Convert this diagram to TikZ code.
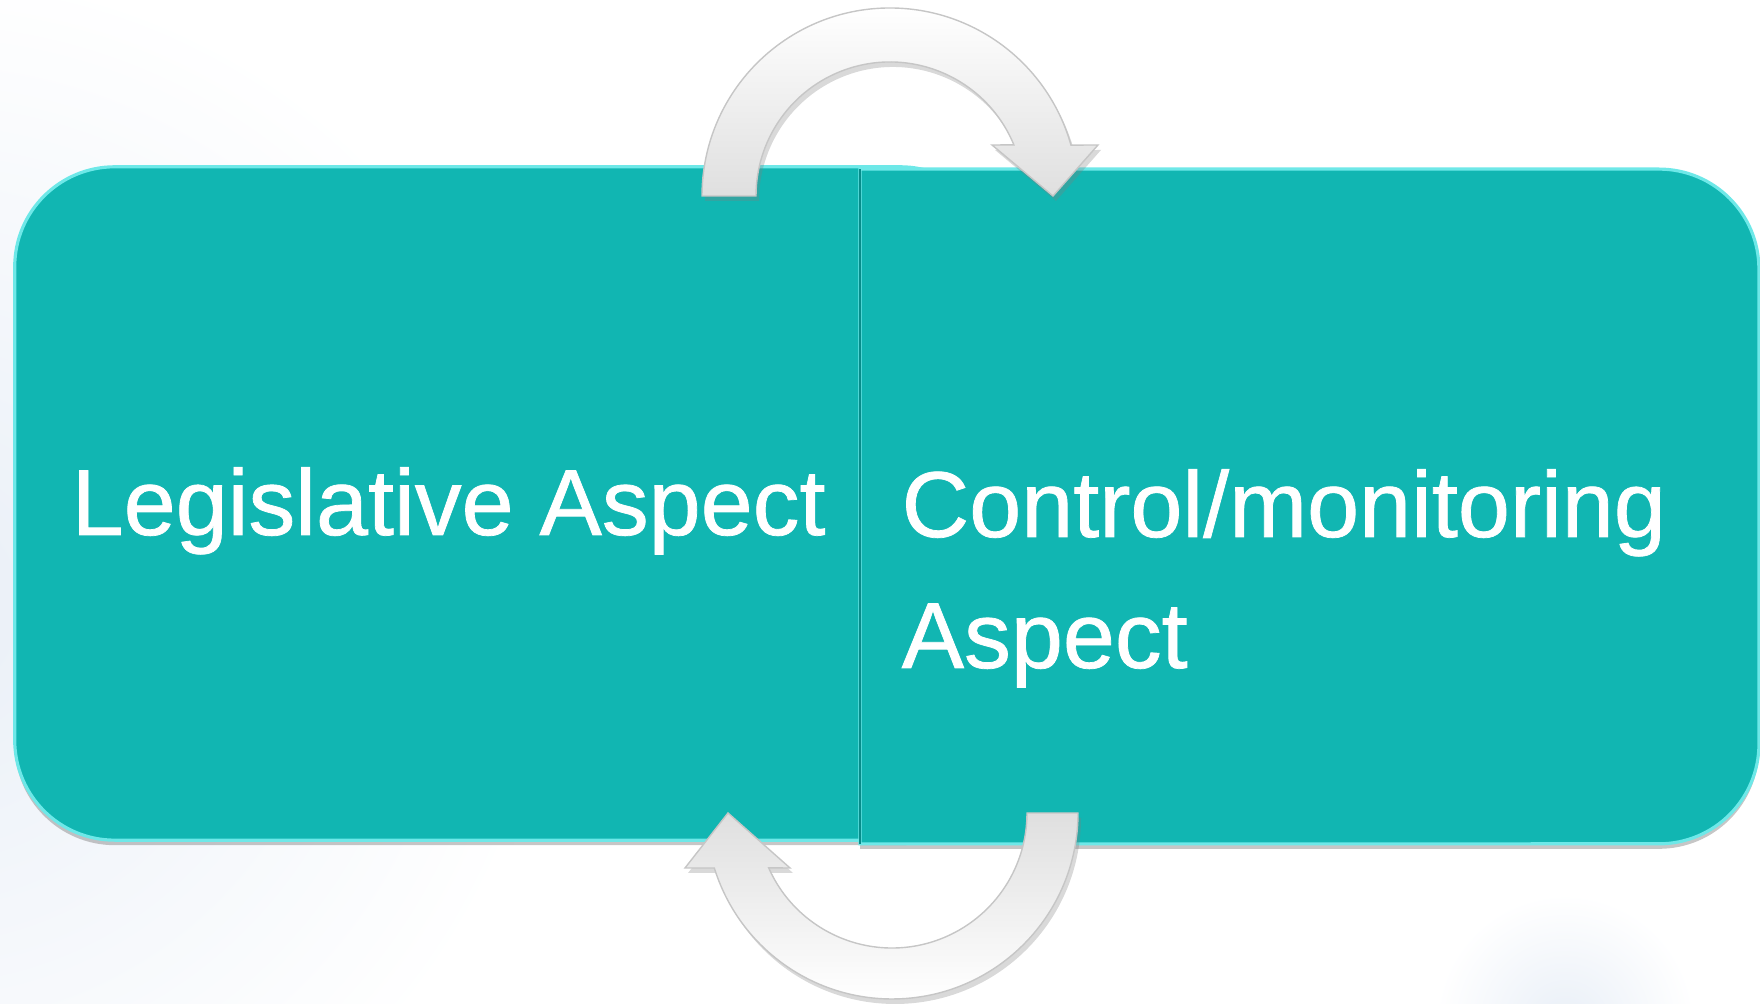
\documentclass[tikz,border=0pt]{standalone}
\usepackage{fontspec}
\setmainfont{Liberation Sans}[FakeBold=0.8]
\usepackage{tikz}
\usetikzlibrary{positioning,shadows,calc}
\definecolor{boxteal}{RGB}{17,182,178}
\definecolor{boxedge}{RGB}{110,232,232}
\definecolor{seam}{RGB}{8,140,138}
\definecolor{haze}{RGB}{233,239,247}

\begin{document}
\begin{tikzpicture}
  [x=0.01cm, y=0.01cm,
   aspectbox/.style={fill=boxteal, draw=boxedge, line width=0.9pt,
     drop shadow={opacity=0.45, shadow xshift=0cm, shadow yshift=-0.05cm}},
   aspecttext/.style={text=white, inner sep=0pt, font=\fontsize{26.6}{37}\selectfont},
   cyclearrow/.style={draw=gray!45, line width=0.4pt,
     drop shadow={opacity=0.3, shadow xshift=0.03cm, shadow yshift=-0.05cm}}]
  \useasboundingbox (0,0) rectangle (1760,1004);
  % background haze
  \shade[inner color=haze, outer color=white] (-80,400) circle (640);
  \shade[inner color=haze, outer color=white] (1565,-20) circle (130);

  % the two aspects
  \node[aspectbox, rounded corners=1cm, minimum width=9.85cm, minimum height=6.73cm,
    inner sep=0pt] (legbox) at (507.5,500.5) {};
  \node[minimum width=8.97cm, minimum height=6.73cm, inner sep=0pt] (ctrlbox) at (1309.5,497.5) {};
  \draw[aspectbox] (ctrlbox.south west) -- (ctrlbox.north west)
    -- ([xshift=-1cm]ctrlbox.north east) arc[start angle=90, end angle=0, radius=100]
    -- ([yshift=1cm]ctrlbox.south east) arc[start angle=0, end angle=-90, radius=100]
    -- cycle;
  \draw[seam, line width=0.8pt] (ctrlbox.south west) -- (ctrlbox.north west);

  \node[aspecttext, anchor=base west] (legtext) at (71,469) {Legislative Aspect};
  \node[aspecttext, anchor=base west] (ctrltext) at (901,467) {Control/monitoring};
  \node[aspecttext, anchor=base west] (ctrltext2) at (901,336) {Aspect};

  % cycle arrows
  \coordinate (topc) at (890,808);
  \coordinate (botc) at (892,191);
  \path[cyclearrow, top color=white, bottom color=gray!25]
    ($(topc)+(180:188)$) arc[start angle=180, end angle=15.7, radius=188]
    -- (1098,859) -- ($(topc)+(0:163)$) -- (992,859)
    -- ($(topc)+(22.4:134)$) arc[start angle=22.4, end angle=180, radius=134] -- cycle;
  \path[cyclearrow, top color=gray!25, bottom color=white]
    ($(botc)+(0:186)$) arc[start angle=0, end angle=-162.8, radius=186]
    -- (685,136) -- ($(botc)+(180:164)$) -- (790,136)
    -- ($(botc)+(-156:135)$) arc[start angle=-156, end angle=0, radius=135] -- cycle;
\end{tikzpicture}
\end{document}
